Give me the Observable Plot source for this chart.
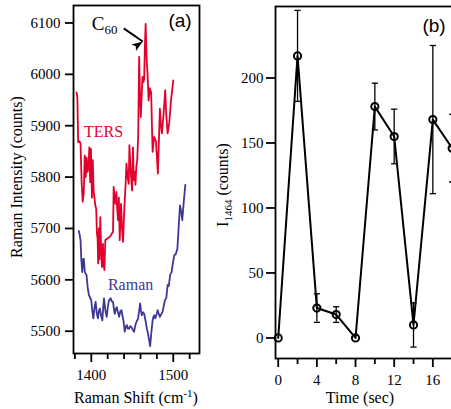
<!DOCTYPE html>
<html><head><meta charset="utf-8">
<script src="https://cdn.jsdelivr.net/npm/d3@7"></script>
<script src="https://cdn.jsdelivr.net/npm/@observablehq/plot@0.6"></script>
<style>
html,body{margin:0;padding:0;background:#fff;overflow:hidden;}
#wrap{position:relative;width:451px;height:409px;overflow:hidden;background:#fff;}
#wrap svg{position:absolute;top:0;}
#wrap svg text{font-family:"Liberation Serif","Times New Roman",serif;}
#wrap svg text.tag{font-family:"Liberation Sans",Arial,sans-serif;}
</style></head><body><div id="wrap"></div>
<script>
// ---------- Panel (a): Raman spectra ----------
const tersShift = [1382.0,1383.0,1384.0,1385.5,1386.9,1388.2,1389.5,1390.8,1392.0,1393.2,1394.3,1395.5,1396.7,1397.6,1398.6,1399.6,1400.8,1401.8,1402.8,1403.8,1404.9,1406.0,1406.9,1407.7,1408.4,1409.2,1410.0,1411.0,1412.0,1413.0,1414.2,1415.0,1416.0,1417.1,1419.1,1421.2,1423.3,1425.0,1426.5,1427.3,1428.4,1429.4,1430.6,1431.6,1432.6,1433.6,1434.7,1435.5,1436.3,1437.5,1438.7,1439.6,1440.4,1441.7,1442.9,1444.3,1445.7,1446.5,1447.8,1448.8,1449.8,1450.8,1451.8,1452.9,1453.9,1454.9,1456.0,1457.2,1458.4,1459.4,1460.4,1461.5,1462.5,1463.5,1464.5,1465.5,1466.3,1467.5,1468.6,1469.9,1471.4,1473.0,1474.8,1476.7,1478.8,1480.0,1481.2,1483.7,1485.0,1486.2,1488.2,1490.2,1491.5,1493.1,1495.1,1497.2,1500.0];
const tersCounts = [5965,5955,5868,5870,5865,5790,5752,5770,5842,5800,5838,5810,5823,5858,5790,5855,5760,5833,5774,5760,5745,5738,5690,5680,5632,5700,5640,5722,5660,5625,5670,5630,5619,5677,5680,5682,5685,5690,5693,5781,5760,5748,5771,5740,5716,5760,5677,5720,5748,5700,5674,5710,5742,5780,5826,5800,5787,5862,5820,5794,5774,5858,5794,5810,5785,5820,5833,5880,6034,5960,5917,5960,5995,5985,5990,6060,6098,6030,6001,5949,5973,5965,5849,5878,5870,5840,5807,5933,5900,5885,5924,5969,5920,5885,5905,5949,5988];
const ramanShift = [1384.8,1385.8,1386.9,1387.8,1389.0,1390.0,1390.9,1392.1,1393.2,1394.2,1395.6,1397.1,1398.5,1400.0,1401.2,1402.5,1403.9,1405.3,1406.7,1408.1,1409.3,1410.5,1412.0,1413.5,1414.5,1415.5,1417.2,1418.8,1420.2,1421.6,1423.7,1425.0,1426.5,1427.5,1428.6,1429.8,1431.0,1432.5,1433.9,1435.3,1436.8,1438.0,1439.2,1440.0,1440.8,1442.0,1443.3,1444.7,1446.1,1447.5,1449.0,1450.6,1452.2,1453.3,1454.3,1455.7,1457.1,1458.4,1459.6,1460.6,1461.6,1463.0,1464.5,1466.2,1467.8,1469.2,1470.6,1471.8,1473.3,1474.8,1475.8,1476.7,1477.8,1478.8,1480.0,1480.9,1482.3,1483.7,1485.3,1487.0,1488.5,1489.8,1491.5,1493.1,1494.5,1496.3,1498.0,1499.3,1501.2,1503.0,1505.0,1506.5,1508.2,1509.5,1511.0,1512.7,1514.7];
const ramanCounts = [5695,5688,5677,5640,5615,5640,5641,5615,5612,5609,5585,5570,5566,5560,5540,5525,5545,5557,5535,5525,5540,5544,5530,5521,5545,5564,5540,5528,5548,5560,5564,5558,5557,5545,5534,5542,5547,5537,5528,5538,5541,5530,5521,5510,5499,5508,5512,5505,5505,5510,5508,5503,5499,5508,5515,5520,5525,5540,5554,5540,5531,5537,5534,5520,5505,5495,5482,5471,5498,5521,5528,5531,5525,5528,5535,5541,5534,5528,5533,5538,5550,5560,5565,5590,5588,5610,5615,5630,5648,5650,5660,5700,5745,5735,5716,5750,5785];
const shiftDomain = [1378.3, 1532];
const countDomain = [5456.6, 6134];
const shiftTicks = [1400, 1500];
const shiftMinorTicks = [1380, 1420, 1440, 1460, 1480, 1520];
const countTicks = [5500, 5600, 5700, 5800, 5900, 6000, 6100];
const seriesNames = ["TERS", "Raman"];
const seriesLabelShift = [1391, 1420.3];
const seriesLabelCounts = [5888, 5591];
const c60LabelAt = [1401.3, 6086];
const arrowFrom = [1439.6, 6089.5];
const arrowTo = [1462.8, 6064.0];

// ---------- Panel (b): I1464 vs time ----------
const timeSec = [0, 2, 4, 6, 8, 10, 12, 14, 16, 18];
const intensity = [0, 217, 23, 18, 0, 178, 155, 10, 168, 146];
const intensityErr = [0, 35, 11, 6, 0, 18, 21, 17, 57, 26];
const timeDomain = [-0.28, 20];
const intensityDomain = [-15.8, 255];
const timeTicks = [0, 4, 8, 12, 16];
const timeMinorTicks = [2, 6, 10, 14, 18];
const intensityTicks = [0, 50, 100, 150, 200];

const serif = "Liberation Serif, Times New Roman, serif";
const sans = "Liberation Sans, Arial, Helvetica, sans-serif";
const tersColor = "#e2002c";
const ramanColor = "#3d3795";
const baseStyle = {fontFamily: serif, fontSize: "15px", color: "#000", background: "transparent", overflow: "visible"};

const ters = tersShift.map((x, i) => ({x, y: tersCounts[i]}));
const raman = ramanShift.map((x, i) => ({x, y: ramanCounts[i]}));
const labels = seriesNames.map((name, i) => ({name, x: seriesLabelShift[i], y: seriesLabelCounts[i], color: i === 0 ? tersColor : ramanColor}));
const arrowSeg = {x1: arrowFrom[0], y1: arrowFrom[1], x2: arrowTo[0], y2: arrowTo[1]};

// filled arrow head symbol, tip at origin, pointing up before rotation
const arrowHead = {draw(ctx) { ctx.moveTo(0, 0); ctx.lineTo(4, 11); ctx.lineTo(0, 8.5); ctx.lineTo(-4, 11); ctx.closePath(); }};

const W_A = 210, H_A = 409, mA = {l: 73, r: 11, t: 5, b: 56};
const pxPerX = (W_A - mA.l - mA.r) / (shiftDomain[1] - shiftDomain[0]);
const pxPerY = (H_A - mA.t - mA.b) / (countDomain[1] - countDomain[0]);
const headAngle = Math.atan2((arrowTo[0] - arrowFrom[0]) * pxPerX, (arrowTo[1] - arrowFrom[1]) * pxPerY) * 180 / Math.PI;

const plotA = Plot.plot({
  width: W_A, height: H_A,
  marginLeft: mA.l, marginRight: mA.r, marginTop: mA.t, marginBottom: mA.b,
  x: {domain: shiftDomain},
  y: {domain: countDomain},
  style: baseStyle,
  marks: [
    Plot.line(ters, {x: "x", y: "y", stroke: tersColor, strokeWidth: 1.8}),
    Plot.line(raman, {x: "x", y: "y", stroke: ramanColor, strokeWidth: 1.8}),
    Plot.text(labels, {x: "x", y: "y", text: "name", fill: "color", fontSize: 16, textAnchor: "start"}),
    Plot.link([arrowSeg], {x1: "x1", y1: "y1", x2: "x2", y2: "y2", stroke: "#000", strokeWidth: 2}),
    Plot.dot([arrowSeg], {x: "x2", y: "y2", symbol: arrowHead, r: 5, fill: "#000", stroke: "none", rotate: 180 - headAngle}),
    Plot.frame({stroke: "#000", strokeWidth: 1.8}),
    Plot.axisX(shiftMinorTicks, {tickSize: 6, tickFormat: () => "", label: null, strokeWidth: 1.8}),
    Plot.axisX(shiftTicks, {tickSize: 9, tickPadding: 7, tickFormat: d => String(d), label: null, strokeWidth: 1.8, fontSize: 15}),
    Plot.axisY(countTicks, {tickSize: 8, tickPadding: 5, tickFormat: d => String(d), label: null, strokeWidth: 1.8, fontSize: 15})
  ]
});

const pts = timeSec.map((t, i) => ({t, v: intensity[i], e: intensityErr[i]}));
const errPts = pts.filter(d => d.e > 0);
const capHalf = 0.32;

const plotB = Plot.plot({
  width: 276, height: 409,
  marginLeft: 75, marginRight: 5, marginTop: 6, marginBottom: 51,
  x: {domain: timeDomain},
  y: {domain: intensityDomain},
  style: baseStyle,
  marks: [
    Plot.ruleX(errPts, {x: "t", y1: d => d.v - d.e, y2: d => d.v + d.e, stroke: "#000", strokeWidth: 1.3}),
    Plot.link(errPts, {x1: d => d.t - capHalf, x2: d => d.t + capHalf, y1: d => d.v + d.e, y2: d => d.v + d.e, stroke: "#000", strokeWidth: 1.3}),
    Plot.link(errPts, {x1: d => d.t - capHalf, x2: d => d.t + capHalf, y1: d => d.v - d.e, y2: d => d.v - d.e, stroke: "#000", strokeWidth: 1.3}),
    Plot.line(pts, {x: "t", y: "v", stroke: "#000", strokeWidth: 2}),
    Plot.dot(pts, {x: "t", y: "v", r: 3.6, stroke: "#000", strokeWidth: 2, fill: "none"}),
    Plot.frame({stroke: "#000", strokeWidth: 1.8}),
    Plot.axisX(timeMinorTicks, {tickSize: 6, tickFormat: () => "", label: null, strokeWidth: 1.8}),
    Plot.axisX(timeTicks, {tickSize: 9, tickPadding: 7, tickFormat: d => String(d), label: null, strokeWidth: 1.8, fontSize: 15}),
    Plot.axisY(intensityTicks, {tickSize: 9, tickPadding: 3, tickFormat: d => String(d), label: null, strokeWidth: 1.8, fontSize: 15})
  ]
});

const wrap = document.getElementById("wrap");
plotA.style.left = "0px";
plotB.style.left = "200px";
wrap.appendChild(plotB);
wrap.appendChild(plotA);

// force serif on every text Plot produced (tick labels, series labels)
d3.selectAll("#wrap svg text, #wrap svg g").style("font-family", serif).style("font-variant", "normal");

function addText(svg, x, y, parts, opts = {}) {
  const t = d3.select(svg).append("text")
    .attr("x", x).attr("y", y)
    .attr("font-size", opts.size || 16)
    .attr("fill", opts.fill || "#000")
    .attr("text-anchor", opts.anchor || "middle")
    .style("font-family", opts.family || serif);
  if (opts.cls) t.attr("class", opts.cls);
  if (opts.rotate) t.attr("transform", `rotate(${opts.rotate},${x},${y})`);
  for (const p of parts) {
    const s = t.append("tspan").text(p.text);
    if (p.size) s.attr("font-size", p.size);
    if (p.dy) s.attr("dy", p.dy);
  }
  return t;
}

const sxA = plotA.scale("x"), syA = plotA.scale("y");
addText(plotA, 22, 177, [{text: "Raman Intensity (counts)"}], {rotate: -90});
addText(plotA, 136, 403, [{text: "Raman Shift (cm"}, {text: "-1", size: 11, dy: -6}, {text: ")", dy: 6}]);
addText(plotA, sxA.apply(c60LabelAt[0]), syA.apply(c60LabelAt[1]), [{text: "C", size: 19}, {text: "60", size: 13, dy: 4}], {anchor: "start"});
addText(plotA, 180, 27, [{text: "(a)"}], {family: sans, size: 19, cls: "tag"});

addText(plotB, 28, 185, [{text: "I"}, {text: "1464", size: 11, dy: 4}, {text: " (counts)", dy: -4}], {rotate: -90});
addText(plotB, 160, 403, [{text: "Time (sec)"}]);
addText(plotB, 234, 32, [{text: "(b)"}], {family: sans, size: 19, cls: "tag"});
</script>
</body></html>
